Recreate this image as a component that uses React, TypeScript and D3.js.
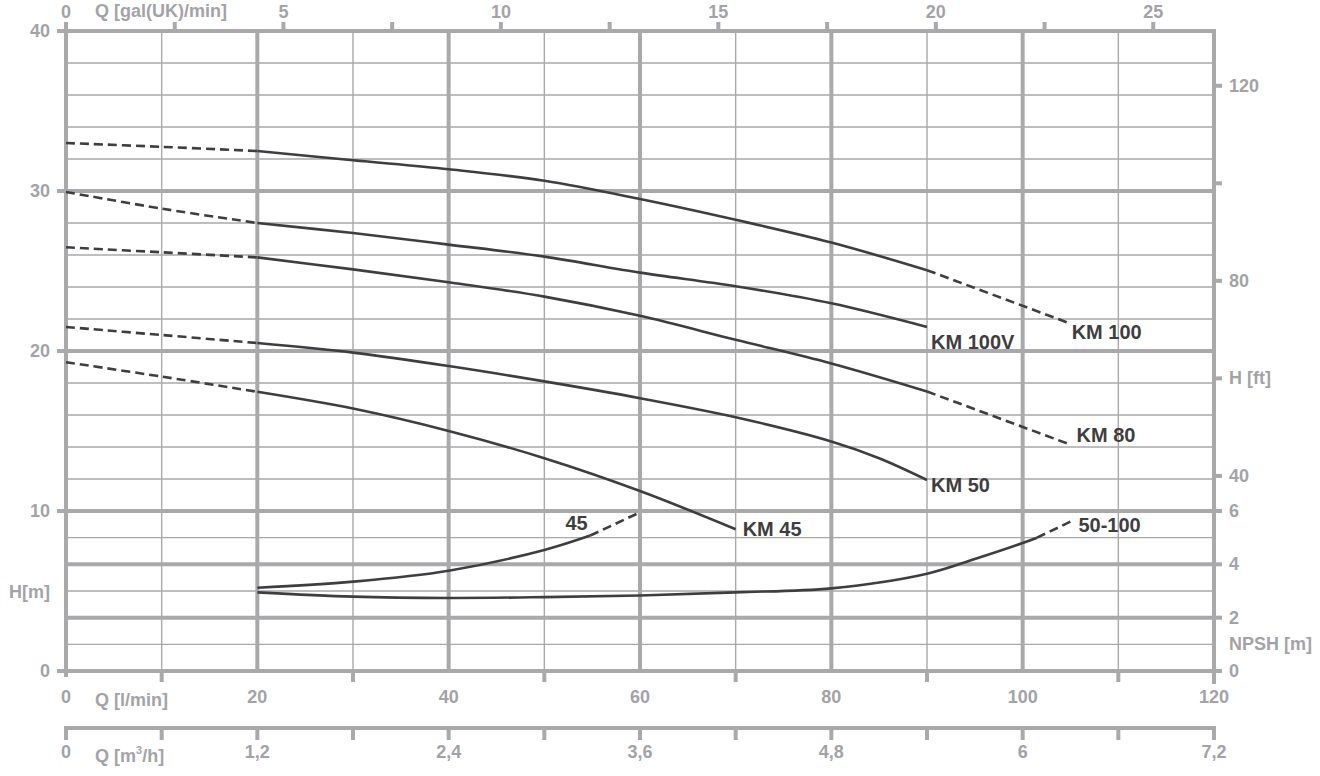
import React from "react";
import * as d3 from "d3";

// ---------- data ----------
const km100Q = [0, 10, 20, 30, 40, 50, 60, 70, 80, 90, 104.6];
const km100H = [33.0, 32.76, 32.5, 31.92, 31.36, 30.64, 29.5, 28.2, 26.78, 25.05, 21.8];
const km100VQ = [0, 10, 20, 30, 40, 50, 60, 70, 80, 90];
const km100VH = [29.94, 28.9, 28.0, 27.37, 26.65, 25.9, 24.9, 24.05, 22.98, 21.5];
const km80Q = [0, 10, 20, 30, 40, 50, 60, 70, 80, 90, 104.8];
const km80H = [26.48, 26.17, 25.85, 25.1, 24.3, 23.4, 22.2, 20.7, 19.22, 17.47, 14.19];
const km50Q = [0, 10, 20, 30, 40, 50, 60, 70, 80, 85, 90];
const km50H = [21.5, 21.0, 20.5, 19.9, 19.06, 18.1, 17.05, 15.86, 14.35, 13.3, 11.94];
const km45Q = [0, 10, 20, 30, 40, 50, 60, 70];
const km45H = [19.3, 18.4, 17.45, 16.4, 15.0, 13.3, 11.25, 8.86];

const npsh45Q = [20, 30, 40, 50, 54.8, 60];
const npsh45N = [3.12, 3.35, 3.76, 4.54, 5.08, 5.95];
const npsh50Q = [20, 30, 40, 50, 60, 70, 80, 90, 95, 100, 101.5, 105.1];
const npsh50N = [2.95, 2.79, 2.74, 2.77, 2.83, 2.95, 3.1, 3.65, 4.2, 4.8, 5.0, 5.62];

const hTicks = [0, 10, 20, 30, 40];
const qTicks = [0, 20, 40, 60, 80, 100, 120];
const m3hLabels = ["0", "1,2", "2,4", "3,6", "4,8", "6", "7,2"];
const galLabels = [0, 5, 10, 15, 20, 25];
const galTicks = [0, 2.5, 5, 7.5, 10, 12.5, 15, 17.5, 20, 22.5, 25];
const ftTicks = [40, 60, 80, 100, 120];
const ftLabels: Record<number, string> = { 40: "40", 60: "H [ft]", 80: "80", 120: "120" };
const npshTicks = [0, 2, 4, 6];

// ---------- geometry ----------
const X0 = 66, X1 = 1214, Y0 = 671, Y1 = 31;
const x = d3.scaleLinear().domain([0, 120]).range([X0, X1]);
const y = d3.scaleLinear().domain([0, 40]).range([Y0, Y1]);
const yN = d3.scaleLinear().domain([0, 6]).range([Y0, 511]);
const xGal = d3.scaleLinear().domain([0, 120 / 4.54609]).range([X0, X1]);
const yFt = d3.scaleLinear().domain([0, 40 / 0.3048]).range([Y0, Y1]);

const GRID = "#a9a9ac";
const TXT = "#a3a3a7";
const CURVE = "#3e3e40";
const FONT = "'Liberation Sans', Arial, sans-serif";

type Seg = { d: string; dashed: boolean };

function segments(qs: number[], vs: number[], ys: d3.ScaleLinear<number, number>, solidFrom: number, solidTo: number): Seg[] {
  const pts = qs.map((q, i) => [q, vs[i]] as [number, number]);
  const line = d3.line<[number, number]>().x((p) => x(p[0])).y((p) => ys(p[1])).curve(d3.curveCatmullRom.alpha(0.5));
  const out: Seg[] = [];
  const before = pts.filter((p) => p[0] <= solidFrom);
  const mid = pts.filter((p) => p[0] >= solidFrom && p[0] <= solidTo);
  const after = pts.filter((p) => p[0] >= solidTo);
  if (before.length > 1) out.push({ d: line(before) || "", dashed: true });
  if (mid.length > 1) out.push({ d: line(mid) || "", dashed: false });
  if (after.length > 1) out.push({ d: line(after) || "", dashed: true });
  return out;
}

const allSegs: Seg[] = [
  ...segments(km100Q, km100H, y, 20, 90),
  ...segments(km100VQ, km100VH, y, 20, 90),
  ...segments(km80Q, km80H, y, 20, 90),
  ...segments(km50Q, km50H, y, 20, 90),
  ...segments(km45Q, km45H, y, 20, 70),
  ...segments(npsh45Q, npsh45N, yN, 20, 54.8),
  ...segments(npsh50Q, npsh50N, yN, 20, 101.5),
];

const curveLabels = [
  { t: "KM 100", q: 104.6, v: km100H[km100H.length - 1], s: y, dx: 5, dy: 10 },
  { t: "KM 100V", q: 90, v: km100VH[km100VH.length - 1], s: y, dx: 4, dy: 15 },
  { t: "KM 80", q: 104.8, v: km80H[km80H.length - 1], s: y, dx: 8, dy: -9 },
  { t: "KM 50", q: 90, v: km50H[km50H.length - 1], s: y, dx: 4, dy: 5 },
  { t: "KM 45", q: 70, v: km45H[km45H.length - 1], s: y, dx: 7, dy: 0 },
  { t: "45", q: 52.2, v: 5.95, s: yN, dx: 0, dy: 11 },
  { t: "50-100", q: 105.1, v: npsh50N[npsh50N.length - 1], s: yN, dx: 7, dy: 4 },
];

export default function App() {
  const thinH: number[] = [];
  for (let h = 12; h < 40; h += 2) if (h % 10 !== 0) thinH.push(h);
  const thickH = [10, 20, 30, 40];
  const thinV = [10, 30, 50, 70, 90, 110];
  const axisText = { fill: TXT, fontFamily: FONT, fontWeight: 700, fontSize: 18 } as const;

  return (
    <svg width={1320} height={776} style={{ position: "absolute", left: 0, top: 0, background: "#fff" }}>
      {/* thin grid */}
      {thinH.map((h) => (
        <line key={"th" + h} x1={X0} x2={X1} y1={y(h)} y2={y(h)} stroke={GRID} strokeWidth={1.4} />
      ))}
      {[1, 3, 5].map((n) => (
        <line key={"tn" + n} x1={X0} x2={X1} y1={yN(n)} y2={yN(n)} stroke={GRID} strokeWidth={1.4} />
      ))}
      {thinV.map((q) => (
        <line key={"tv" + q} x1={x(q)} x2={x(q)} y1={Y1} y2={682} stroke={GRID} strokeWidth={1.4} />
      ))}
      {thinV.map((q) => (
        <line key={"tvt" + q} x1={x(q)} x2={x(q)} y1={Y0} y2={682} stroke={GRID} strokeWidth={4} />
      ))}
      {/* thick grid */}
      {thickH.map((h) => (
        <line key={"kh" + h} x1={X0} x2={X1} y1={y(h)} y2={y(h)} stroke={GRID} strokeWidth={4} />
      ))}
      {[0, 2, 4].map((n) => (
        <line key={"kn" + n} x1={X0} x2={X1} y1={yN(n)} y2={yN(n)} stroke={GRID} strokeWidth={4} />
      ))}
      {qTicks.map((q) => (
        <line key={"kv" + q} x1={x(q)} x2={x(q)} y1={Y1 - 2} y2={q === 0 ? 677 : q === 120 ? 684 : Y0} stroke={GRID} strokeWidth={4} />
      ))}

      {/* left ticks */}
      {hTicks.map((h) => (
        <g key={"lt" + h}>
          <line x1={57} x2={X0} y1={y(h)} y2={y(h)} stroke={GRID} strokeWidth={4} />
          <text x={50} y={y(h)} textAnchor="end" dominantBaseline="central" {...axisText}>{h}</text>
        </g>
      ))}
      <text x={50} y={592} textAnchor="end" dominantBaseline="central" {...axisText}>H[m]</text>

      {/* top gal axis */}
      {galTicks.map((g) => (
        <line key={"gt" + g} x1={xGal(g)} x2={xGal(g)} y1={22} y2={Y1} stroke={GRID} strokeWidth={4} />
      ))}
      {galLabels.map((g) => (
        <text key={"gl" + g} x={xGal(g)} y={12} textAnchor="middle" dominantBaseline="central" {...axisText}>{g}</text>
      ))}
      <text x={95} y={11} dominantBaseline="central" {...axisText}>Q [gal(UK)/min]</text>

      {/* right ft axis */}
      {ftTicks.map((f) => (
        <g key={"ft" + f}>
          <line x1={X1} x2={1222} y1={yFt(f)} y2={yFt(f)} stroke={GRID} strokeWidth={4} />
          {ftLabels[f] && (
            <text x={1229} y={yFt(f)} dominantBaseline="central" {...axisText}>{ftLabels[f]}</text>
          )}
        </g>
      ))}
      {npshTicks.map((n) => (
        <g key={"np" + n}>
          <line x1={X1} x2={1222} y1={yN(n)} y2={yN(n)} stroke={GRID} strokeWidth={4} />
          <text x={1229} y={yN(n)} dominantBaseline="central" {...axisText}>{n}</text>
        </g>
      ))}
      <text x={1229} y={yN(1)} dominantBaseline="central" {...axisText}>NPSH [m]</text>

      {/* bottom l/min axis labels */}
      {qTicks.map((q) => (
        <text key={"ql" + q} x={x(q)} y={697} textAnchor="middle" dominantBaseline="central" {...axisText}>{q}</text>
      ))}
      <text x={95} y={700} dominantBaseline="central" {...axisText}>Q [l/min]</text>

      {/* m3/h axis */}
      <line x1={X0 - 2} x2={X1 + 2} y1={728} y2={728} stroke={GRID} strokeWidth={4} />
      {d3.range(0, 130, 10).map((q) => (
        <line key={"mt" + q} x1={x(q)} x2={x(q)} y1={728} y2={740} stroke={GRID} strokeWidth={4} />
      ))}
      {qTicks.map((q, i) => (
        <text key={"ml" + q} x={x(q)} y={752} textAnchor="middle" dominantBaseline="central" {...axisText}>{m3hLabels[i]}</text>
      ))}
      <text x={95} y={756} dominantBaseline="central" {...axisText}>
        Q [m<tspan fontSize={11} dy={-6}>3</tspan><tspan dy={6}>/h]</tspan>
      </text>

      {/* curves */}
      {allSegs.map((s, i) => (
        <path key={"c" + i} d={s.d} fill="none" stroke={CURVE} strokeWidth={2.6}
          strokeDasharray={s.dashed ? "9,5" : undefined} strokeLinecap="butt" />
      ))}

      {/* curve labels */}
      {curveLabels.map((l) => (
        <text key={l.t} x={x(l.q) + l.dx} y={l.s(l.v) + l.dy} dominantBaseline="central"
          fill={CURVE} fontFamily={FONT} fontWeight={700} fontSize={20}>{l.t}</text>
      ))}
    </svg>
  );
}
